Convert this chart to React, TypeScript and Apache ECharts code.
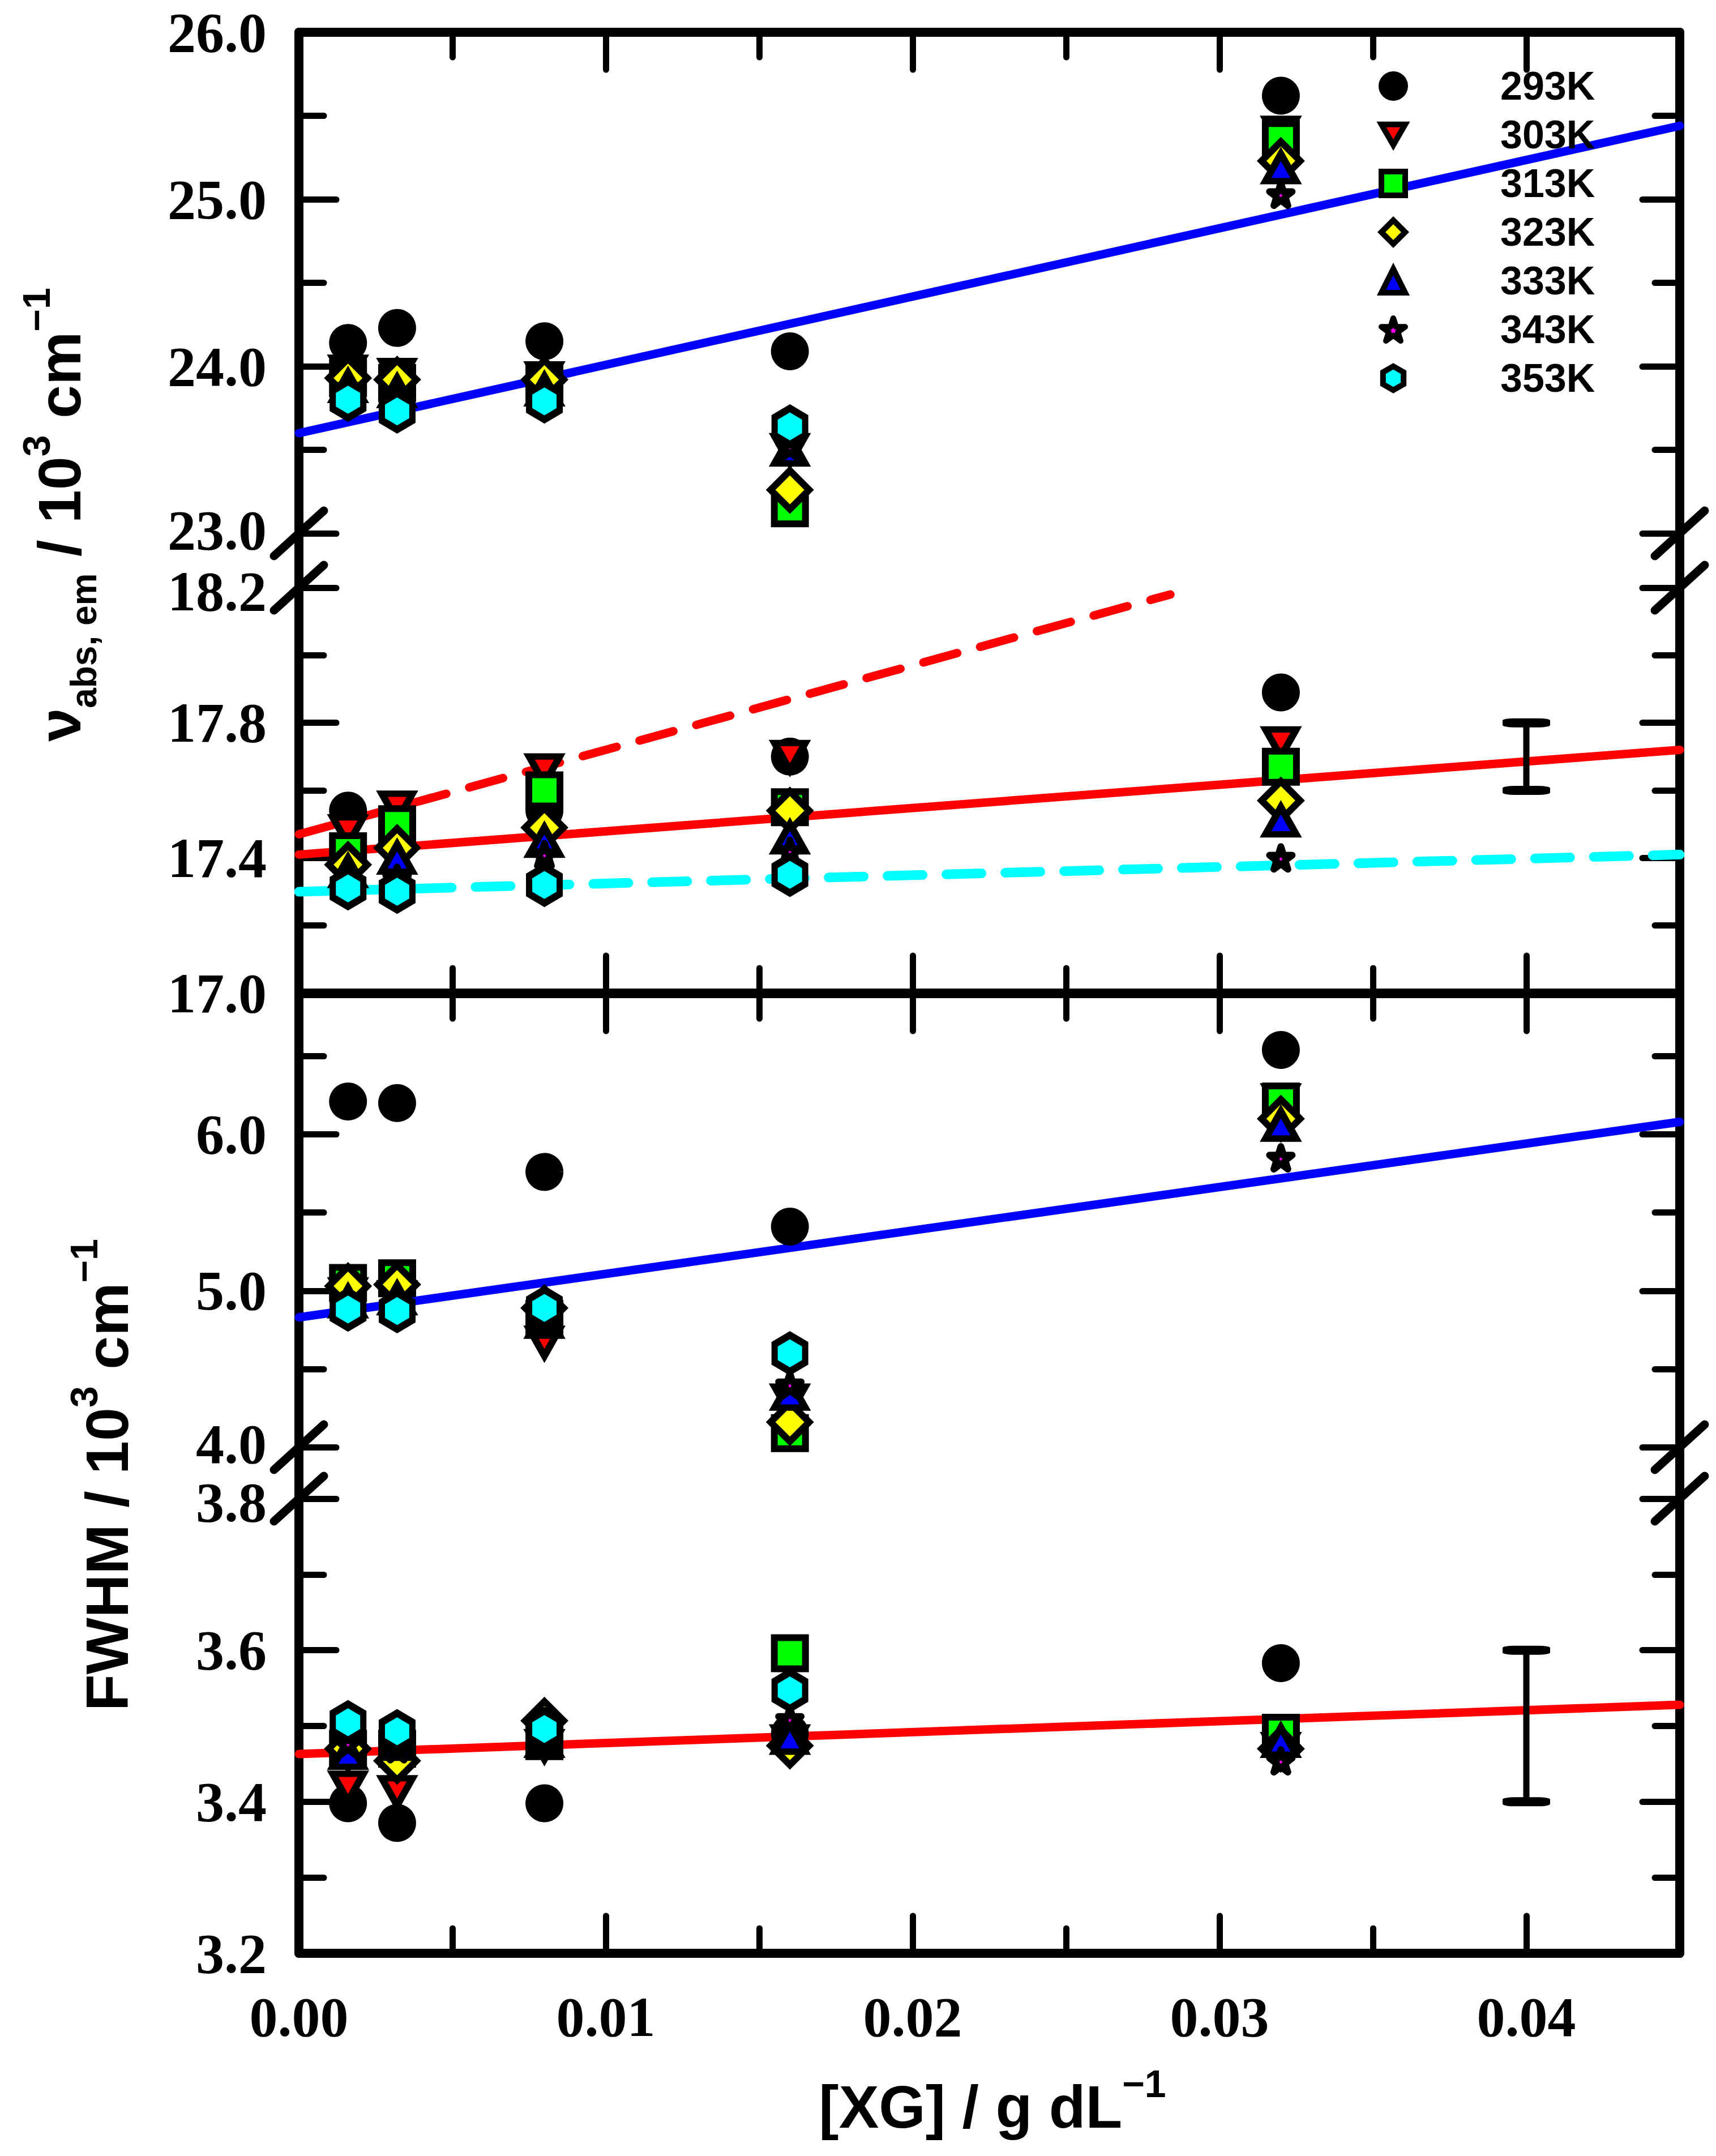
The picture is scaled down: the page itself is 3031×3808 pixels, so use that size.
import React, { useEffect, useRef } from 'react';
import * as echarts from 'echarts';

// temperatures (legend) and xanthan gum concentrations (g/dL)
const temps = ['293K', '303K', '313K', '323K', '333K', '343K', '353K'];
const xg = [0.0016, 0.0032, 0.008, 0.016, 0.032];

// one row per temperature, one value per concentration (null = no point)
const nuHigh = [
  [24.14, 24.23, 24.15, 24.09, 25.62],
  [23.97, 23.95, 23.93, 23.5, 25.4],
  [23.93, 23.9, 23.9, 23.15, 25.36],
  [23.93, 23.92, 23.92, 23.26, 25.23],
  [23.88, 23.85, 23.86, 23.5, 25.19],
  [23.87, 23.83, 23.85, 23.52, 25.03],
  [23.8, 23.73, 23.79, 23.64, null],
];
const nuLow = [
  [17.54, 17.51, 17.54, 17.7, 17.89],
  [17.48, 17.55, 17.66, 17.7, 17.74],
  [17.42, 17.5, 17.6, 17.55, 17.67],
  [17.38, 17.43, 17.49, 17.54, 17.57],
  [17.36, 17.4, 17.45, 17.46, 17.51],
  [17.35, 17.34, 17.41, 17.42, 17.4],
  [17.31, 17.3, 17.32, 17.35, null],
];
const fwhmHigh = [
  [6.21, 6.2, 5.76, 5.41, 6.54],
  [4.98, 4.96, 4.67, 4.3, 6.22],
  [5.05, 5.08, 4.82, 4.09, 6.21],
  [5.03, 5.04, 4.89, 4.16, 6.1],
  [4.93, 4.95, 4.8, 4.34, 6.06],
  [4.92, 4.93, 4.79, 4.4, 5.85],
  [4.88, 4.87, 4.89, 4.6, null],
];
const fwhmLow = [
  [3.398, 3.372, 3.398, 3.49, 3.583],
  [3.419, 3.413, 3.474, 3.48, 3.47],
  [3.47, 3.47, 3.48, 3.596, 3.491],
  [3.47, 3.454, 3.507, 3.474, 3.47],
  [3.464, 3.476, 3.48, 3.484, 3.48],
  [3.477, 3.47, 3.48, 3.509, 3.454],
  [3.505, 3.493, 3.496, 3.547, null],
];

// linear fits (end points)
const fitNuHigh = [[0, 23.6], [0.045, 25.44]];
const fitNuLowRed = [[0, 17.41], [0.045, 17.72]];
const fitNuLowRedDash = [[0, 17.47], [0.0284, 18.18]];
const fitNuLowCyan = [[0, 17.3], [0.045, 17.41]];
const fitFwhmHigh = [[0, 4.83], [0.045, 6.08]];
const fitFwhmLow = [[0, 3.463], [0.045, 3.528]];

// error bars
const errX = 0.04;
const errNu = [17.6, 17.8];
const errFwhm = [3.4, 3.6];

// ticks
const xMajor = [0, 0.01, 0.02, 0.03, 0.04];
const xMinor = [0.005, 0.015, 0.025, 0.035];
const yRanges = [[23, 26], [17, 18.2], [4, 6.9], [3.2, 3.8]];
const yMajor = [[23, 24, 25, 26], [17.0, 17.4, 17.8, 18.2], [4, 5, 6], [3.2, 3.4, 3.6, 3.8]];
const yMinor = [[23.5, 24.5, 25.5], [17.2, 17.6, 18.0], [4.5, 5.5, 6.5], [3.3, 3.5, 3.7]];

const SERIF = '"Liberation Serif", "Times New Roman", serif';
const SANS = '"Liberation Sans", Arial, sans-serif';

const INV_TRI = 'path://M0,0L100,0L50,86.6Z';
const STAR = 'path://M50,0L61.2,34.5L97.6,34.5L68.2,55.9L79.4,90.5L50,69.1L20.6,90.5L31.8,55.9L2.4,34.5L38.8,34.5Z';
const HEX = 'path://M50,0L93.3,25L93.3,75L50,100L6.7,75L6.7,25Z';

const marks = [
  { symbol: 'circle', size: 55, color: '#000000', join: 'miter' },
  { symbol: INV_TRI, size: [54, 48], color: '#ff0000', join: 'miter' },
  { symbol: 'rect', size: 55, color: '#00ff00', join: 'miter' },
  { symbol: 'diamond', size: 68, color: '#ffff00', join: 'miter' },
  { symbol: 'triangle', size: [54, 48], color: '#0000ff', join: 'miter' },
  { symbol: STAR, size: 40, color: '#ff00ff', join: 'round' },
  { symbol: HEX, size: [54, 64], color: '#00ffff', join: 'miter' },
];

const LEFT = 528;
const RIGHT = 2967;
const grids = [
  { top: 57, height: 885 },
  { top: 1038, height: 716 },
  { top: 1755, height: 801 },
  { top: 2647, height: 803 },
];

export default function App() {
  const ref = useRef<HTMLDivElement>(null);

  useEffect(() => {
    if (!ref.current) return;
    const chart = echarts.init(ref.current, null, { renderer: 'svg' });

    const axisLine = { color: '#000', width: 16, cap: 'round' };
    const tickLine = { color: '#000', width: 11, cap: 'round' };
    const tickFont = { color: '#000', fontFamily: SERIF, fontWeight: 'bold', fontSize: 100, lineHeight: 90 };
    // labels next to an axis break are nudged apart a little
    const labelRich = {
      lo: { ...tickFont, padding: [0, 0, 12, 0] },
      hi: { ...tickFont, padding: [12, 0, 0, 0] },
      n: { ...tickFont },
    };

    const xAxis: any[] = [];
    const yAxis: any[] = [];
    grids.forEach((_, p) => {
      [true, false].forEach((major) => {
        xAxis.push({
          type: 'value', gridIndex: p, position: p % 2 === 0 ? 'top' : 'bottom',
          min: 0, max: 0.045,
          axisLine: { show: major, onZero: false, lineStyle: axisLine },
          axisTick: { show: true, inside: true, length: major ? 66 : 44, lineStyle: tickLine, customValues: major ? xMajor : xMinor },
          axisLabel: major && p === 3
            ? { show: true, customValues: xMajor, formatter: (v: number) => v.toFixed(2), margin: 67, ...tickFont }
            : { show: false },
          splitLine: { show: false },
        });
      });
      ['left', 'right'].forEach((side) => {
        [true, false].forEach((major) => {
          const [lo, hi] = yRanges[p];
          yAxis.push({
            type: 'value', gridIndex: p, position: side,
            min: lo, max: hi,
            axisLine: { show: major, onZero: false, lineStyle: axisLine },
            axisTick: { show: true, inside: true, length: major ? 66 : 44, lineStyle: tickLine, customValues: major ? yMajor[p] : yMinor[p] },
            axisLabel: major && side === 'left'
              ? {
                  show: true, customValues: yMajor[p], margin: 57, ...tickFont, rich: labelRich,
                  formatter: (v: number) => {
                    const s = v.toFixed(1);
                    if ((p === 0 || p === 2) && v === lo) return `{lo|${s}}`;
                    if ((p === 1 || p === 3) && v === hi) return `{hi|${s}}`;
                    return `{n|${s}}`;
                  },
                }
              : { show: false },
            splitLine: { show: false },
          });
        });
      });
    });

    const series: any[] = [];
    const fit = (p: number, data: number[][], color: string, width: number, dashed: boolean) => {
      series.push({
        type: 'line', name: 'fit', xAxisIndex: 2 * p, yAxisIndex: 4 * p, data,
        symbol: 'none', silent: true, z: 2,
        lineStyle: { color, width, opacity: 1, type: dashed ? [62, 42] : 'solid', cap: 'round' },
      });
    };
    fit(0, fitNuHigh, '#0000ff', 15, false);
    fit(1, fitNuLowRed, '#ff0000', 15, false);
    fit(1, fitNuLowRedDash, '#ff0000', 15, true);
    fit(1, fitNuLowCyan, '#00ffff', 17, true);
    fit(2, fitFwhmHigh, '#0000ff', 15, false);
    fit(3, fitFwhmLow, '#ff0000', 15, false);

    const errBar = (p: number, range: number[]) => {
      series.push({
        type: 'line', name: 'err', xAxisIndex: 2 * p, yAxisIndex: 4 * p,
        data: range.map((v) => [errX, v]),
        symbol: 'roundRect', symbolSize: [84, 16], showSymbol: true, silent: true, z: 2,
        itemStyle: { color: '#000', opacity: 1 },
        lineStyle: { color: '#000', width: 11 },
      });
    };
    errBar(1, errNu);
    errBar(3, errFwhm);

    [nuHigh, nuLow, fwhmHigh, fwhmLow].forEach((rows, p) => {
      rows.forEach((vals, t) => {
        series.push({
          type: 'scatter', name: temps[t], xAxisIndex: 2 * p, yAxisIndex: 4 * p,
          data: xg.map((x, i) => [x, vals[i]]).filter((d) => d[1] != null),
          symbol: marks[t].symbol, symbolSize: marks[t].size, silent: true, z: 3,
          itemStyle: { color: marks[t].color, opacity: 1, borderColor: '#000', borderWidth: 12, borderJoin: marks[t].join },
        });
      });
    });

    // axis breaks: connecting axis segments and double slashes
    const graphic: any[] = [];
    [[942, 1038], [2556, 2647]].forEach(([a, b]) => {
      [LEFT, RIGHT].forEach((x) => {
        graphic.push({ type: 'line', shape: { x1: x, y1: a, x2: x, y2: b }, style: { stroke: '#000', lineWidth: 16 } });
        [a, b].forEach((y) => {
          graphic.push({
            type: 'line', shape: { x1: x - 44, y1: y + 40, x2: x + 44, y2: y - 40 },
            style: { stroke: '#000', lineWidth: 15, lineCap: 'round' },
          });
        });
      });
    });

    const rich = {
      m: { fontFamily: SANS, fontWeight: 'bold', fontSize: 106, lineHeight: 150, fill: '#000' },
      s: { fontFamily: SANS, fontWeight: 'bold', fontSize: 64, lineHeight: 80, verticalAlign: 'bottom', fill: '#000' },
      p: { fontFamily: SANS, fontWeight: 'bold', fontSize: 68, lineHeight: 68, verticalAlign: 'top', fill: '#000' },
    };
    graphic.push({
      type: 'text', x: 105, y: 909, rotation: Math.PI / 2,
      style: { text: '{m|ν}{s|abs, em}{m| / 10}{p|3}{m| cm}{p|−1}', rich, align: 'center', verticalAlign: 'middle', fill: '#000' },
    });
    graphic.push({
      type: 'text', x: 189, y: 2605, rotation: Math.PI / 2,
      style: { text: '{m|FWHM / 10}{p|3}{m| cm}{p|−1}', rich, align: 'center', verticalAlign: 'middle', fill: '#000' },
    });
    graphic.push({
      type: 'text', x: 1753, y: 3721,
      style: { text: '{m|[XG] / g dL}{p|−1}', rich, align: 'center', verticalAlign: 'middle', fill: '#000' },
    });

    chart.setOption({
      animation: false,
      backgroundColor: '#fff',
      grid: grids.map((g) => ({ left: LEFT, width: RIGHT - LEFT, top: g.top, height: g.height, outerBoundsMode: 'none', containLabel: false })),
      xAxis,
      yAxis,
      legend: {
        data: temps, orient: 'vertical', left: 2435, top: 117, padding: 0,
        itemWidth: 42, itemHeight: 42, itemGap: 16, selectedMode: false,
        itemStyle: { borderWidth: 10, opacity: 1 },
        formatter: '{t|{name}}',
        textStyle: {
          rich: { t: { fontFamily: SANS, fontWeight: 'bold', fontSize: 70, lineHeight: 70, color: '#000', padding: [0, 0, 0, 163] } },
        },
      },
      series,
      graphic,
    });
    return () => chart.dispose();
  }, []);

  return <div ref={ref} style={{ position: 'absolute', left: 0, top: 0, width: 3031, height: 3808 }} />;
}
